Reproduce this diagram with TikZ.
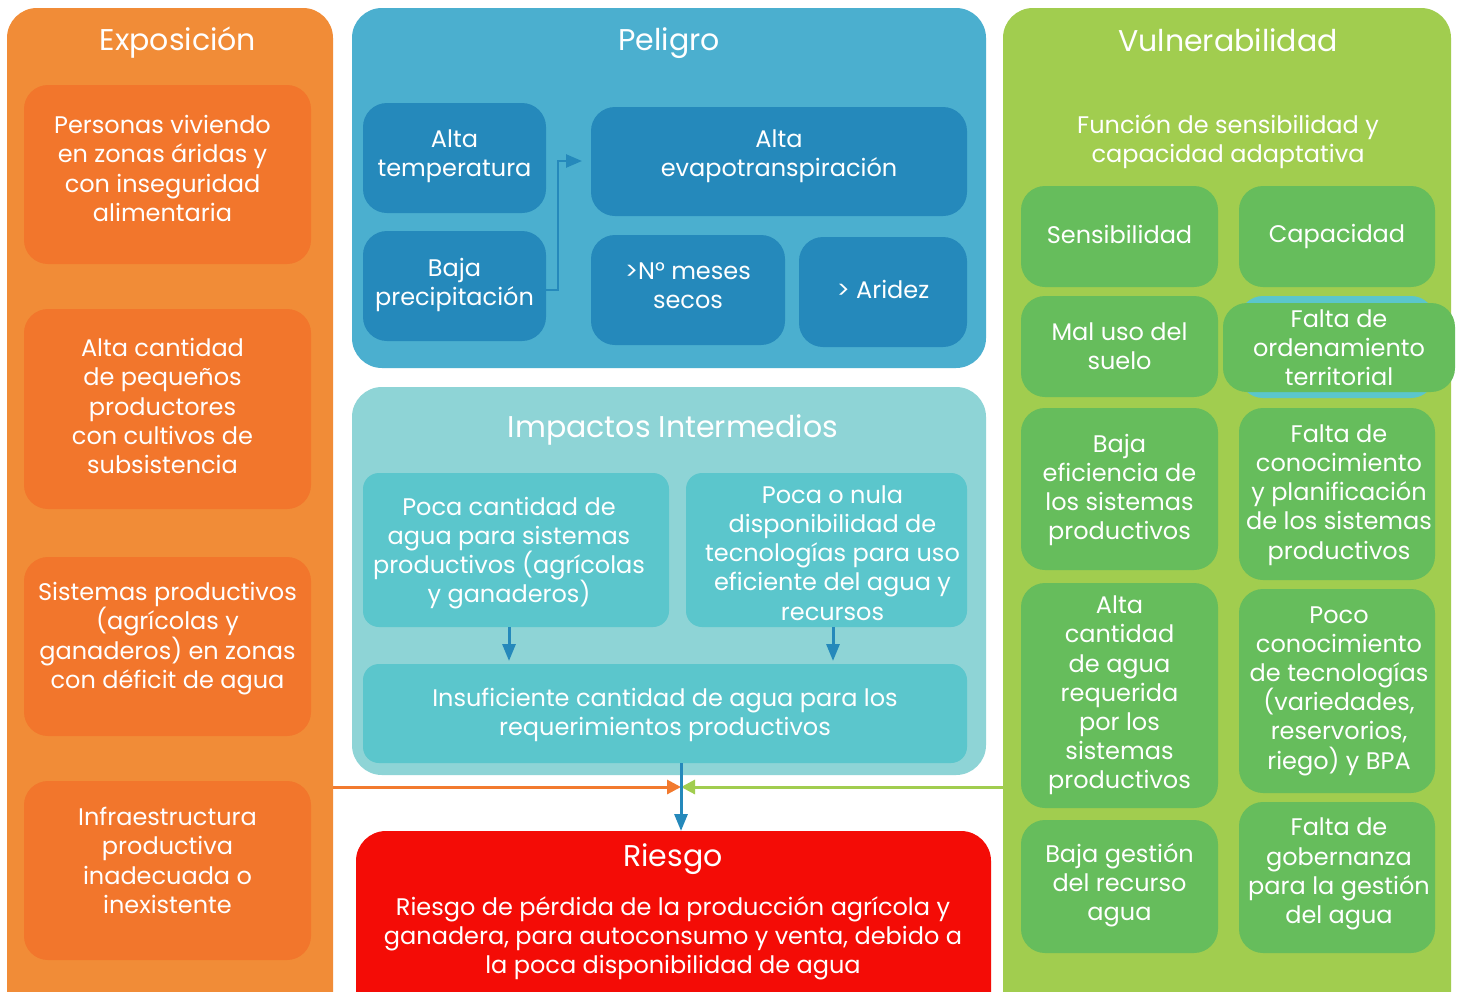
\documentclass[tikz,border=0pt]{standalone}
\usepackage{fontspec}
\setmainfont{Poppins}
\usetikzlibrary{arrows.meta}
\definecolor{expoP}{HTML}{F18C37}
\definecolor{expoB}{HTML}{F2762C}
\definecolor{peliP}{HTML}{4BAFCF}
\definecolor{peliB}{HTML}{2589BB}
\definecolor{impaP}{HTML}{8ED4D6}
\definecolor{impaB}{HTML}{5BC6CC}
\definecolor{riesC}{HTML}{F40C06}
\definecolor{vulnP}{HTML}{A1CD4F}
\definecolor{vulnB}{HTML}{66BD5C}
\definecolor{arrO}{HTML}{F27A2E}
% name, x1, y1, x2, y2, style, text, dx, dy
\newcommand\bx[9]{\node[#6, minimum width={#4-#2}, minimum height={#5-#3}] (#1) at ({(#2+#4)/2},{(#3+#5)/2}) {};
  \node[sub] (#1-t) at ({(#2+#4)/2+#8},{(#3+#5)/2+#9}) {#7};}
\tikzset{
  panel/.style={inner sep=0pt, outer sep=0pt, rounded corners=30pt, draw=none},
  cbox/.style={inner sep=0pt, outer sep=0pt, rounded corners=24pt, draw=none},
  ttl/.style={text=white, font=\fontsize{30}{36}\selectfont, inner sep=0pt, anchor=center},
  sub/.style={text=white, align=center, font=\fontsize{24}{29.2}\selectfont, inner sep=0pt},
}
\begin{document}
\begin{tikzpicture}[x=1pt,y=-1pt]
\clip (0,0) rectangle (1458,991);
\fill[white] (0,0) rectangle (1458,991);
% panels
\node[panel, fill=expoP, minimum width=326, minimum height=1032] (expo) at (170,524) {};
\node[panel, fill=peliP, minimum width=634, minimum height=360] (peli) at (669,188) {};
\node[panel, fill=impaP, minimum width=634, minimum height=388] (impa) at (669,581) {};
\node[panel, fill=riesC, minimum width=635, minimum height=209] (ries) at (673.5,935.5) {};
\node[panel, fill=vulnP, minimum width=448, minimum height=1032] (vuln) at (1227,524) {};
% titles
\node[ttl] (texpo) at (178,43) {Exposición};
\node[ttl] (tpeli) at (669,43) {Peligro};
\node[ttl] (tvuln) at (1228,40) {Vulnerabilidad};
\node[ttl] (timpa) at (673,430) {Impactos Intermedios};
\node[ttl] (tries) at (673,859) {Riesgo};
\node[sub] (fsub) at (1228,142) {Función de sensibilidad y\\capacidad adaptativa};
\node[sub] (rsub) at (673,938) {Riesgo de pérdida de la producción agrícola y\\ganadera, para autoconsumo y venta, debido a\\la poca disponibilidad de agua};
% exposicion boxes
\bx{e1}{24}{85}{311}{264}{cbox, fill=expoB}{Personas viviendo\\en zonas áridas y\\con inseguridad\\alimentaria}{-5}{-6}
\bx{e2}{24}{309}{311}{509}{cbox, fill=expoB}{Alta cantidad\\de pequeños\\productores\\con cultivos de\\subsistencia}{-5}{-3}
\bx{e3}{24}{557}{311}{736}{cbox, fill=expoB}{Sistemas productivos\\(agrícolas y\\ganaderos) en zonas\\con déficit de agua}{0}{-8}
\bx{e4}{24}{781}{311}{960}{cbox, fill=expoB}{Infraestructura\\productiva\\inadecuada o\\inexistente}{0}{-10}
% peligro boxes
\bx{p1}{363}{103}{546}{213}{cbox, fill=peliB}{Alta\\temperatura}{0}{-1.5}
\bx{p2}{363}{231}{546}{341}{cbox, fill=peliB}{Baja\\precipitación}{0}{-1}
\bx{p3}{591}{107}{967}{216}{cbox, fill=peliB}{Alta\\evapotranspiración}{0}{-5}
\bx{p4}{591}{235}{785}{345}{cbox, fill=peliB}{>N° meses\\secos}{0}{-4}
\bx{p5}{799}{237}{967}{347}{cbox, fill=peliB}{> Aridez}{0}{-3}
\draw[peliB, line width=2.5pt, -{Triangle[length=16pt,width=13pt]}] (p2.east |- 0,290) -| (558,161) -- ([xshift=-9pt]p3.west |- 0,161);
% impactos boxes
\bx{i1}{363}{473}{669}{627}{cbox, rounded corners=16pt, fill=impaB}{Poca cantidad de\\agua para sistemas\\productivos (agrícolas\\y ganaderos)}{-7}{3}
\bx{i2}{686}{473}{967}{627}{cbox, rounded corners=16pt, fill=impaB}{Poca o nula\\disponibilidad de\\tecnologías para uso\\eficiente del agua y\\recursos}{6}{3}
\bx{i3}{363}{664}{967}{763}{cbox, rounded corners=16pt, fill=impaB}{Insuficiente cantidad de agua para los\\requerimientos productivos}{0}{1.5}
\draw[peliB, line width=3pt, -{Triangle[length=17pt,width=13pt]}] (i1.south -| 509,0) -- ([yshift=3pt]i3.north -| 509,0);
\draw[peliB, line width=3pt, -{Triangle[length=17pt,width=13pt]}] (i2.south -| 833,0) -- ([yshift=3pt]i3.north -| 833,0);
% vulnerabilidad boxes
\bx{v1}{1021}{186}{1218}{287}{cbox, fill=vulnB}{Sensibilidad}{0}{-2}
\bx{v2}{1239}{186}{1435}{287}{cbox, fill=vulnB}{Capacidad}{0}{0}
\bx{v3}{1021}{296}{1218}{397}{cbox, fill=vulnB}{Mal uso del\\suelo}{0}{0}
\node[cbox, fill=impaB, minimum width=196, minimum height=102] (v4b) at (1337,347) {};
\bx{v4}{1223}{303}{1455}{392}{cbox, fill=vulnB}{Falta de\\ordenamiento\\territorial}{0}{0}
\bx{v5}{1021}{408}{1218}{570}{cbox, fill=vulnB}{Baja\\eficiencia de\\los sistemas\\productivos}{0}{1}
\bx{v6}{1239}{408}{1435}{580}{cbox, fill=vulnB}{Falta de\\conocimiento\\y planificación\\de los sistemas\\productivos}{2}{1}
\bx{v7}{1021}{583}{1218}{808}{cbox, fill=vulnB}{Alta\\cantidad\\de agua\\requerida\\por los\\sistemas\\productivos}{0}{0}
\bx{v8}{1239}{589}{1435}{793}{cbox, fill=vulnB}{Poco\\conocimiento\\de tecnologías\\(variedades,\\reservorios,\\riego) y BPA}{2}{0}
\bx{v9}{1021}{820}{1218}{953}{cbox, fill=vulnB}{Baja gestión\\del recurso\\agua}{0}{-1.5}
\bx{v10}{1239}{802}{1435}{953}{cbox, fill=vulnB}{Falta de\\gobernanza\\para la gestión\\del agua}{2}{-3.5}
% connectors to riesgo
\coordinate (meet) at (681,787);
\draw[arrO, line width=3pt, -{Triangle[length=14pt,width=14pt]}] (expo.east |- meet) -- (meet);
\draw[vulnP, line width=3pt, -{Triangle[length=14pt,width=14pt]}] (vuln.west |- meet) -- (meet);
\draw[peliB, line width=3pt, -{Triangle[length=17pt,width=13pt]}] (i3.south -| meet) -- (ries.north -| meet);
\end{tikzpicture}
\end{document}
